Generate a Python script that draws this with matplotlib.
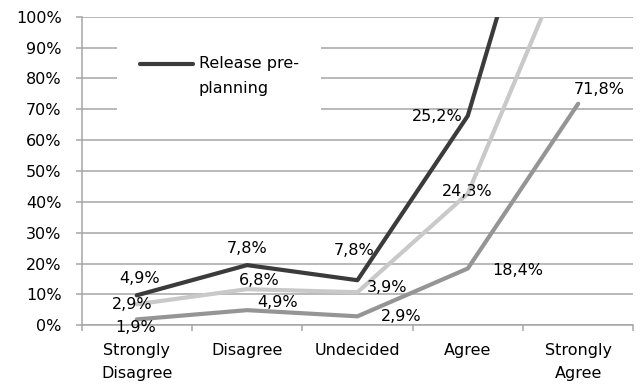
import matplotlib.pyplot as plt
from matplotlib.patches import Rectangle
import numpy as np

categories = ['Strongly\nDisagree', 'Disagree', 'Undecided', 'Agree', 'Strongly\nAgree']
# answer shares per series (%), stacked bottom -> top
bottom_vals = [1.9, 4.9, 2.9, 18.4, 71.8]
middle_vals = [4.9, 6.8, 7.8, 24.3, 56.2]
top_vals = [2.9, 7.8, 3.9, 25.2, 60.2]
top_name = 'Release pre-\nplanning'

# where each value label sits relative to its point, in pixels (None = off chart)
bottom_offsets = [(-1, -8), (30, 8), (44, 0), (50, -2), (21, 14)]
middle_offsets = [(3, 26), (12, 9), (-3, 42), (-1, 2), None]
top_offsets = [(-5, -9), (0, 17), (30, -7), (-31, -1), None]

plt.rcParams['font.family'] = ['DejaVu Sans']
FS = 11.5
GRID = '#a6a6a6'

fig = plt.figure(figsize=(6.42, 3.9), dpi=100)
ax = fig.add_axes([0.127, 0.166, 0.8595, 0.791])

x = np.arange(len(categories))
stack = np.cumsum([bottom_vals, middle_vals, top_vals], axis=0)
colors = ['#959595', '#c9c9c9', '#3b3b3b']
all_vals = [bottom_vals, middle_vals, top_vals]
all_offs = [bottom_offsets, middle_offsets, top_offsets]

lines = []
for cum, col in zip(stack, colors):
    ln, = ax.plot(x, cum, color=col, lw=3.0, solid_joinstyle='round',
                  solid_capstyle='round', zorder=3)
    lines.append(ln)

for cum, vals, offs in zip(stack, all_vals, all_offs):
    for xi, yi, v, off in zip(x, cum, vals, offs):
        if off is None:
            continue
        ax.annotate(f"{v:.1f}%".replace('.', ','), (xi, yi), xytext=off,
                    textcoords='offset pixels', ha='center', va='center',
                    fontsize=FS, color='black', zorder=4)

ax.set_xlim(-0.5, len(categories) - 0.5)
ax.set_ylim(0, 100)
ax.set_yticks(np.arange(0, 101, 10))
ax.set_yticklabels([f"{v}%" for v in range(0, 101, 10)], fontsize=FS)
ax.set_xticks(x)
ax.set_xticklabels(categories, fontsize=FS, linespacing=1.6)
ax.set_xticks(np.arange(-0.5, len(categories)), minor=True)
ax.tick_params(axis='x', which='major', length=0, pad=13)
ax.tick_params(axis='x', which='minor', length=4.5, width=1.1, color=GRID, direction='out')
ax.tick_params(axis='y', length=4.3, width=1.1, color=GRID, direction='out', pad=10)

ax.set_axisbelow(True)
ax.grid(axis='y', color=GRID, lw=1.1)
for side in ['top', 'right']:
    ax.spines[side].set_visible(False)
for side in ['left', 'bottom']:
    ax.spines[side].set_color(GRID)
    ax.spines[side].set_linewidth(1.1)

# white legend area over the gridlines
ax.add_patch(Rectangle((0.064, 0.672), 0.37, 0.26, transform=ax.transAxes,
                       facecolor='white', edgecolor='none', zorder=1.5))
leg = ax.legend([lines[2]], [top_name], loc='upper left',
                bbox_to_anchor=(0.106, 0.872), frameon=False, fontsize=FS,
                borderaxespad=0, borderpad=0, handlelength=3.3, handletextpad=0.37)
for t in leg.get_texts():
    t.set_linespacing(1.85)
# line sample level with the first text line
for h in leg.legend_handles:
    h.set_ydata(np.asarray(h.get_ydata()) + 9.4)
leg.set_zorder(5)

fig.savefig('out.png', dpi=100)
